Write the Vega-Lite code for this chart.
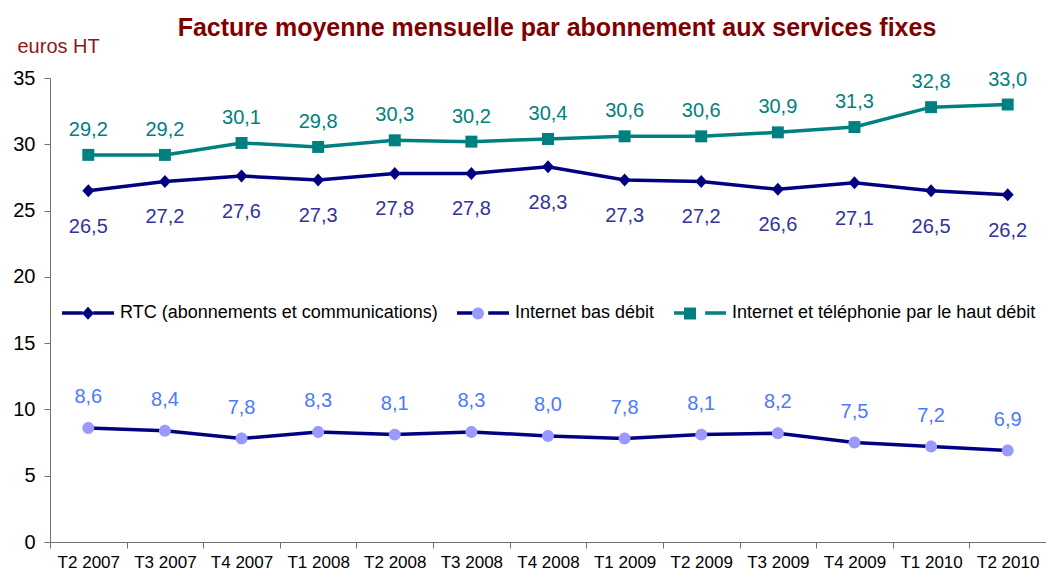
{
  "$schema": "https://vega.github.io/schema/vega-lite/v6.json",
  "autosize": "none",
  "width": 996,
  "height": 464,
  "padding": {"left": 50, "top": 78, "right": 0, "bottom": 36},
  "background": "white",
  "title": {
    "text": "Facture moyenne mensuelle par abonnement aux services fixes",
    "fontSize": 25,
    "fontWeight": "bold",
    "color": "#800000",
    "anchor": "middle",
    "frame": "group",
    "baseline": "alphabetic",
    "offset": 0,
    "dy": 25,
    "dx": 9
  },
  "config": {
    "font": "Liberation Sans",
    "view": {"stroke": null},
    "locale": {"number": {"decimal": ",", "thousands": " ", "grouping": [3], "currency": ["", " €"]}}
  },
  "data": {
    "values": [
      {"quarter": "T2 2007", "series": "RTC (abonnements et communications)", "value": 26.5},
      {"quarter": "T3 2007", "series": "RTC (abonnements et communications)", "value": 27.2},
      {"quarter": "T4 2007", "series": "RTC (abonnements et communications)", "value": 27.6},
      {"quarter": "T1 2008", "series": "RTC (abonnements et communications)", "value": 27.3},
      {"quarter": "T2 2008", "series": "RTC (abonnements et communications)", "value": 27.8},
      {"quarter": "T3 2008", "series": "RTC (abonnements et communications)", "value": 27.8},
      {"quarter": "T4 2008", "series": "RTC (abonnements et communications)", "value": 28.3},
      {"quarter": "T1 2009", "series": "RTC (abonnements et communications)", "value": 27.3},
      {"quarter": "T2 2009", "series": "RTC (abonnements et communications)", "value": 27.2},
      {"quarter": "T3 2009", "series": "RTC (abonnements et communications)", "value": 26.6},
      {"quarter": "T4 2009", "series": "RTC (abonnements et communications)", "value": 27.1},
      {"quarter": "T1 2010", "series": "RTC (abonnements et communications)", "value": 26.5},
      {"quarter": "T2 2010", "series": "RTC (abonnements et communications)", "value": 26.2},
      {"quarter": "T2 2007", "series": "Internet bas débit", "value": 8.6},
      {"quarter": "T3 2007", "series": "Internet bas débit", "value": 8.4},
      {"quarter": "T4 2007", "series": "Internet bas débit", "value": 7.8},
      {"quarter": "T1 2008", "series": "Internet bas débit", "value": 8.3},
      {"quarter": "T2 2008", "series": "Internet bas débit", "value": 8.1},
      {"quarter": "T3 2008", "series": "Internet bas débit", "value": 8.3},
      {"quarter": "T4 2008", "series": "Internet bas débit", "value": 8.0},
      {"quarter": "T1 2009", "series": "Internet bas débit", "value": 7.8},
      {"quarter": "T2 2009", "series": "Internet bas débit", "value": 8.1},
      {"quarter": "T3 2009", "series": "Internet bas débit", "value": 8.2},
      {"quarter": "T4 2009", "series": "Internet bas débit", "value": 7.5},
      {"quarter": "T1 2010", "series": "Internet bas débit", "value": 7.2},
      {"quarter": "T2 2010", "series": "Internet bas débit", "value": 6.9},
      {"quarter": "T2 2007", "series": "Internet et téléphonie par le haut débit", "value": 29.2},
      {"quarter": "T3 2007", "series": "Internet et téléphonie par le haut débit", "value": 29.2},
      {"quarter": "T4 2007", "series": "Internet et téléphonie par le haut débit", "value": 30.1},
      {"quarter": "T1 2008", "series": "Internet et téléphonie par le haut débit", "value": 29.8},
      {"quarter": "T2 2008", "series": "Internet et téléphonie par le haut débit", "value": 30.3},
      {"quarter": "T3 2008", "series": "Internet et téléphonie par le haut débit", "value": 30.2},
      {"quarter": "T4 2008", "series": "Internet et téléphonie par le haut débit", "value": 30.4},
      {"quarter": "T1 2009", "series": "Internet et téléphonie par le haut débit", "value": 30.6},
      {"quarter": "T2 2009", "series": "Internet et téléphonie par le haut débit", "value": 30.6},
      {"quarter": "T3 2009", "series": "Internet et téléphonie par le haut débit", "value": 30.9},
      {"quarter": "T4 2009", "series": "Internet et téléphonie par le haut débit", "value": 31.3},
      {"quarter": "T1 2010", "series": "Internet et téléphonie par le haut débit", "value": 32.8},
      {"quarter": "T2 2010", "series": "Internet et téléphonie par le haut débit", "value": 33.0}
    ]
  },
  "encoding": {
    "x": {
      "field": "quarter",
      "type": "nominal",
      "sort": null,
      "scale": {"type": "band", "paddingInner": 0, "paddingOuter": 0},
      "axis": {
        "title": null,
        "labelAngle": 0,
        "labelFontSize": 17,
        "labelColor": "#000000",
        "labelPadding": 6,
        "tickBand": "extent",
        "tickSize": 6,
        "tickColor": "#707070",
        "domainColor": "#707070",
        "labelOverlap": false,
        "grid": false
      }
    },
    "y": {
      "field": "value",
      "type": "quantitative",
      "scale": {"domain": [0, 35], "nice": false},
      "axis": {
        "title": "euros HT",
        "titleAngle": 0,
        "titleAlign": "left",
        "titleBaseline": "alphabetic",
        "titleX": -33,
        "titleY": -26,
        "titleFontSize": 20,
        "titleFontWeight": "normal",
        "titleColor": "#8B1A1A",
        "values": [0, 5, 10, 15, 20, 25, 30, 35],
        "labelFontSize": 20,
        "labelColor": "#000000",
        "labelPadding": 9,
        "tickSize": 6,
        "tickColor": "#707070",
        "domainColor": "#707070",
        "grid": false
      }
    }
  },
  "layer": [
    {
      "mark": {"type": "line", "strokeWidth": 3.5},
      "encoding": {
        "stroke": {
          "field": "series",
          "type": "nominal",
          "sort": ["RTC (abonnements et communications)", "Internet bas débit", "Internet et téléphonie par le haut débit"],
          "scale": {"range": ["#000080", "#000080", "#008080"]},
          "legend": {
            "title": null,
            "orient": "none",
            "legendX": 10,
            "legendY": 207,
            "direction": "horizontal",
            "padding": 0,
            "symbolType": "M-1,0L-0.2,0M0.2,0L1,0",
            "symbolSize": 2704,
            "symbolStrokeWidth": 3.5,
            "symbolFillColor": "transparent",
            "labelFontSize": 18,
            "labelColor": "#000000",
            "labelOffset": 4,
            "columnPadding": 12,
            "labelLimit": 500
          }
        }
      }
    },
    {
      "mark": {"type": "point", "filled": true, "size": 2704, "opacity": 1, "strokeWidth": 0},
      "encoding": {
        "fill": {
          "field": "series",
          "type": "nominal",
          "scale": {
            "domain": ["RTC (abonnements et communications)", "Internet bas débit", "Internet et téléphonie par le haut débit"],
            "range": ["#000080", "#9999FF", "#008080"]
          },
          "legend": {
            "title": null,
            "orient": "none",
            "legendX": 10,
            "legendY": 207,
            "direction": "horizontal",
            "padding": 0,
            "symbolSize": 2704,
            "symbolStrokeWidth": 3.5,
            "symbolStrokeColor": "transparent",
            "labelFontSize": 18,
            "labelColor": "transparent",
            "labelOffset": 4,
            "columnPadding": 12,
            "labelLimit": 500
          }
        },
        "shape": {
          "field": "series",
          "type": "nominal",
          "scale": {
            "domain": ["RTC (abonnements et communications)", "Internet bas débit", "Internet et téléphonie par le haut débit"],
            "range": [
              "M-0.23,0L0,-0.25L0.23,0L0,0.25Z",
              "M-0.23,0A0.23,0.23,0,1,1,0.23,0A0.23,0.23,0,1,1,-0.23,0Z",
              "M-0.23,-0.23L0.23,-0.23L0.23,0.23L-0.23,0.23Z"
            ]
          },
          "legend": {
            "title": null,
            "orient": "none",
            "legendX": 10,
            "legendY": 207,
            "direction": "horizontal",
            "padding": 0,
            "symbolSize": 2704,
            "symbolStrokeWidth": 3.5,
            "symbolStrokeColor": "transparent",
            "labelFontSize": 18,
            "labelColor": "transparent",
            "labelOffset": 4,
            "columnPadding": 12,
            "labelLimit": 500
          }
        }
      }
    },
    {
      "transform": [{"filter": "datum.series === 'RTC (abonnements et communications)'"}],
      "mark": {"type": "text", "fontSize": 20, "color": "#333399", "baseline": "middle", "dy": 36},
      "encoding": {"text": {"field": "value", "type": "quantitative", "format": ".1f"}}
    },
    {
      "transform": [{"filter": "datum.series === 'Internet bas débit'"}],
      "mark": {"type": "text", "fontSize": 20, "color": "#4D79FF", "baseline": "middle", "dy": -31},
      "encoding": {"text": {"field": "value", "type": "quantitative", "format": ".1f"}}
    },
    {
      "transform": [{"filter": "datum.series === 'Internet et téléphonie par le haut débit'"}],
      "mark": {"type": "text", "fontSize": 20, "color": "#008080", "baseline": "middle", "dy": -25},
      "encoding": {"text": {"field": "value", "type": "quantitative", "format": ".1f"}}
    }
  ]
}
